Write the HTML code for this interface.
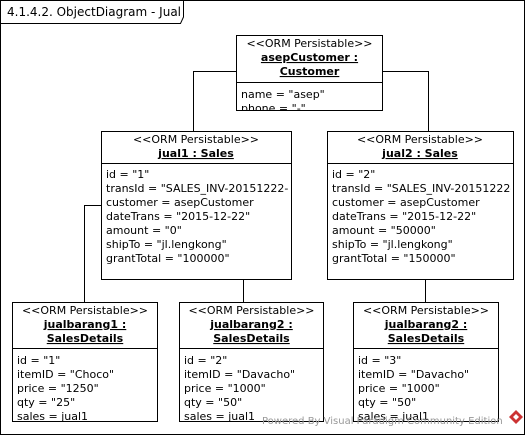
<!DOCTYPE html>
<html><head><meta charset="utf-8"><style>
html,body{margin:0;padding:0;background:#fff;}
svg{display:block;}
text{font-family:"DejaVu Sans","Liberation Sans",sans-serif;font-size:11px;fill:#000;}
.b{font-weight:bold;text-decoration:underline;}
</style></head><body>
<svg width="527" height="436" viewBox="0 0 527 436">
<defs>
<clipPath id="c0"><rect x="236" y="82" width="147" height="28"/></clipPath>
<clipPath id="c1"><rect x="101" y="163" width="187" height="117"/></clipPath>
<clipPath id="c2"><rect x="327" y="163" width="184" height="117"/></clipPath>
<clipPath id="c3"><rect x="12" y="348" width="146" height="74"/></clipPath>
<clipPath id="c4"><rect x="179" y="348" width="145" height="74"/></clipPath>
<clipPath id="c5"><rect x="353" y="348" width="146" height="74"/></clipPath>
</defs>
<rect x="0.5" y="0.5" width="524" height="434" fill="#fff" stroke="#000"/>
<path d="M0.5 23.5 H180.5 L183.5 17 V0.5" fill="none" stroke="#000"/>
<text x="7" y="16" style="font-size:12px">4.1.4.2. ObjectDiagram - Jual</text>

<g fill="none" stroke="#000">
<path d="M236 71.5 H193.5 V131"/>
<path d="M383 71.5 H428.5 V131"/>
<path d="M101 205.5 H84.5 V302"/>
<path d="M243.5 280 V302"/>
<path d="M425.5 280 V302"/>
</g>

<rect x="236.5" y="35.5" width="146" height="75" fill="#fff" stroke="#000"/>
<line x1="236" y1="82.5" x2="383" y2="82.5" stroke="#000"/>
<text x="309.5" y="47" text-anchor="middle">&lt;&lt;ORM Persistable&gt;&gt;</text>
<text x="309.5" y="61" text-anchor="middle" class="b">asepCustomer :</text>
<text x="309.5" y="75" text-anchor="middle" class="b">Customer</text>
<g clip-path="url(#c0)"><text x="241" y="98">name = "asep"</text><text x="241" y="112">phone = "-"</text></g>

<rect x="101.5" y="131.5" width="190" height="148" fill="#fff" stroke="#000"/>
<line x1="101" y1="163.5" x2="292" y2="163.5" stroke="#000"/>
<text x="196" y="143" text-anchor="middle">&lt;&lt;ORM Persistable&gt;&gt;</text>
<text x="196" y="157" text-anchor="middle" class="b">jual1 : Sales</text>
<g clip-path="url(#c1)">
<text x="106" y="178">id = "1"</text>
<text x="106" y="192">transId = "SALES_INV-20151222-1"</text>
<text x="106" y="206">customer = asepCustomer</text>
<text x="106" y="220">dateTrans = "2015-12-22"</text>
<text x="106" y="234">amount = "0"</text>
<text x="106" y="248">shipTo = "jl.lengkong"</text>
<text x="106" y="262">grantTotal = "100000"</text>
</g>

<rect x="327.5" y="131.5" width="186" height="148" fill="#fff" stroke="#000"/>
<line x1="327" y1="163.5" x2="514" y2="163.5" stroke="#000"/>
<text x="420" y="143" text-anchor="middle">&lt;&lt;ORM Persistable&gt;&gt;</text>
<text x="420" y="157" text-anchor="middle" class="b">jual2 : Sales</text>
<g clip-path="url(#c2)">
<text x="332" y="178">id = "2"</text>
<text x="332" y="192">transId = "SALES_INV-20151222-2"</text>
<text x="332" y="206">customer = asepCustomer</text>
<text x="332" y="220">dateTrans = "2015-12-22"</text>
<text x="332" y="234">amount = "50000"</text>
<text x="332" y="248">shipTo = "jl.lengkong"</text>
<text x="332" y="262">grantTotal = "150000"</text>
</g>

<rect x="12.5" y="302.5" width="145" height="119" fill="#fff" stroke="#000"/>
<line x1="12" y1="348.5" x2="158" y2="348.5" stroke="#000"/>
<text x="85" y="314" text-anchor="middle">&lt;&lt;ORM Persistable&gt;&gt;</text>
<text x="85" y="328" text-anchor="middle" class="b">jualbarang1 :</text>
<text x="85" y="342" text-anchor="middle" class="b">SalesDetails</text>
<g clip-path="url(#c3)">
<text x="17" y="364">id = "1"</text>
<text x="17" y="378">itemID = "Choco"</text>
<text x="17" y="392">price = "1250"</text>
<text x="17" y="406">qty = "25"</text>
<text x="17" y="420">sales = jual1</text>
</g>

<rect x="179.5" y="302.5" width="144" height="119" fill="#fff" stroke="#000"/>
<line x1="179" y1="348.5" x2="324" y2="348.5" stroke="#000"/>
<text x="251.5" y="314" text-anchor="middle">&lt;&lt;ORM Persistable&gt;&gt;</text>
<text x="251.5" y="328" text-anchor="middle" class="b">jualbarang2 :</text>
<text x="251.5" y="342" text-anchor="middle" class="b">SalesDetails</text>
<g clip-path="url(#c4)">
<text x="184" y="364">id = "2"</text>
<text x="184" y="378">itemID = "Davacho"</text>
<text x="184" y="392">price = "1000"</text>
<text x="184" y="406">qty = "50"</text>
<text x="184" y="420">sales = jual1</text>
</g>

<rect x="353.5" y="302.5" width="145" height="119" fill="#fff" stroke="#000"/>
<line x1="353" y1="348.5" x2="499" y2="348.5" stroke="#000"/>
<text x="426" y="314" text-anchor="middle">&lt;&lt;ORM Persistable&gt;&gt;</text>
<text x="426" y="328" text-anchor="middle" class="b">jualbarang2 :</text>
<text x="426" y="342" text-anchor="middle" class="b">SalesDetails</text>
<g clip-path="url(#c5)">
<text x="358" y="364">id = "3"</text>
<text x="358" y="378">itemID = "Davacho"</text>
<text x="358" y="392">price = "1000"</text>
<text x="358" y="406">qty = "50"</text>
<text x="358" y="420">sales = jual1</text>
</g>

<text x="262" y="424" style="font-size:10px;fill:#999;">Powered By Visual Paradigm Community Edition</text>
<path d="M516 410 L523 417 L516 424 L509 417 Z" fill="#c33"/>
<path d="M516 414 L519 417 L516 420 L513 417 Z" fill="#fff"/>
</svg>
</body></html>
